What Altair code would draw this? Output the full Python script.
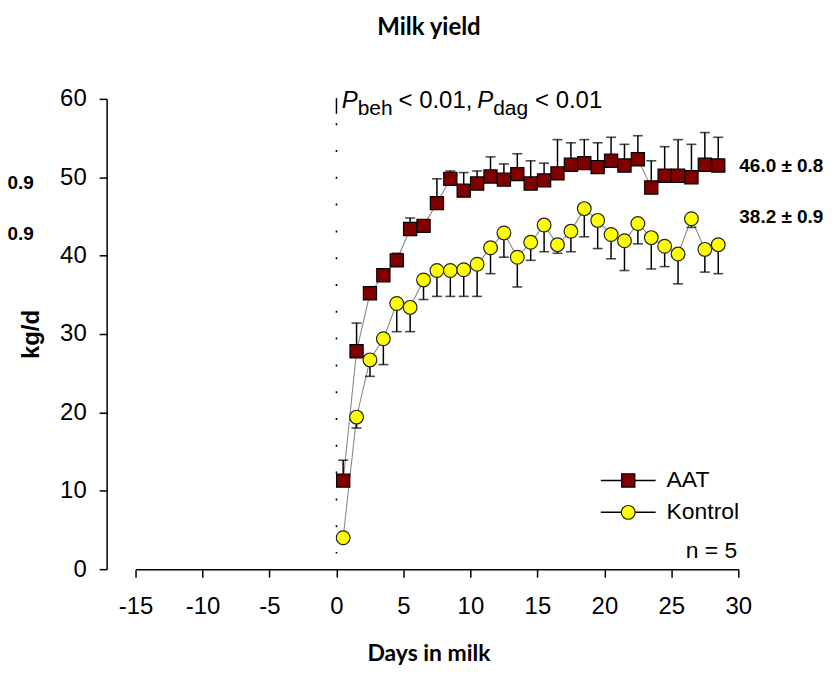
import altair as alt
import pandas as pd

# ---------------- data ----------------
days = [0.5, 1.5, 2.5, 3.5, 4.5, 5.5, 6.5, 7.5, 8.5, 9.5,
        10.5, 11.5, 12.5, 13.5, 14.5, 15.5, 16.5, 17.5, 18.5, 19.5,
        20.5, 21.5, 22.5, 23.5, 24.5, 25.5, 26.5, 27.5, 28.5]

aat_mean = [11.3, 27.8, 35.2, 37.5, 39.4, 43.4, 43.8, 46.7, 49.8, 48.3,
            49.2, 50.1, 49.7, 50.4, 49.2, 49.6, 50.5, 51.6, 51.8, 51.3,
            52.1, 51.5, 52.3, 48.7, 50.2, 50.2, 50.0, 51.6, 51.5]
aat_upper = [13.9, 31.4, 36.0, 37.9, 40.3, 44.8, 44.2, 49.8, 50.8, 50.6,
             50.8, 52.6, 51.7, 53.0, 52.1, 51.8, 54.8, 54.4, 54.8, 54.4,
             55.1, 54.2, 55.3, 52.1, 53.9, 54.8, 54.2, 55.7, 55.1]

kontrol_mean = [4.0, 19.4, 26.7, 29.4, 33.9, 33.4, 36.9, 38.1, 38.1, 38.2,
                38.9, 41.0, 42.9, 39.8, 41.7, 43.9, 41.4, 43.1, 46.0, 44.5,
                42.7, 41.9, 44.1, 42.3, 41.2, 40.2, 44.7, 40.8, 41.4]
kontrol_lower = [3.6, 18.0, 24.6, 26.1, 30.3, 30.3, 34.4, 34.8, 34.8, 34.8,
                 34.8, 37.7, 39.8, 36.0, 39.4, 40.5, 40.3, 40.5, 42.4, 40.9,
                 39.6, 38.1, 41.5, 38.3, 38.6, 36.4, 43.6, 37.9, 37.7]

groups = ["AAT", "Kontrol"]
x_ticks = [-15, -10, -5, 0, 5, 10, 15, 20, 25, 30]
y_ticks = [0, 10, 20, 30, 40, 50, 60]
end_labels = ["46.0 ± 0.8", "38.2 ± 0.9"]
cut_labels = ["0.9", "0.9"]
n_label = "n = 5"
title_text = "Milk yield"
x_title = "Days in milk"
y_title = "kg/d"

# ---------------- tables ----------------
df = pd.DataFrame({
    "day": days + days,
    "mean": aat_mean + kontrol_mean,
    "err": aat_upper + kontrol_lower,
    "group": [groups[0]] * len(days) + [groups[1]] * len(days),
})
calving = pd.DataFrame({"day": [0], "top": [60.1], "mid": [58.1], "dots": [56.9], "bottom": [2.0]})
one = pd.DataFrame({"k": [0]})

SANS = "Liberation Sans, Arial, sans-serif"
BOLDT = "Lato, Open Sans, sans-serif"
MAROON = "#800000"
YELLOW = "#FFFF00"

x_scale = alt.Scale(domain=[-15, 30], nice=False, zero=False)
y_scale = alt.Scale(domain=[0, 60], nice=False, zero=False)

x_axis = alt.Axis(
    values=x_ticks, title=x_title, titleFont=BOLDT, titleFontSize=23,
    titleFontWeight="bold", titleColor="black", titlePadding=24, titleX=294,
    labelFont=SANS, labelFontSize=24, labelColor="black", labelPadding=18,
    labelExpr="'' + datum.value",
    labelFlush=False, labelOverlap=False,
    tickSize=8, tickWidth=1.5, tickColor="black",
    domainColor="black", domainWidth=1.5, grid=False,
)
y_axis = alt.Axis(
    values=y_ticks, title=y_title, titleFont=SANS,
    titleFontSize=24, titleFontWeight="bold", titleColor="black", titlePadding=16,
    labelFont=SANS, labelFontSize=24, labelColor="black", labelPadding=13,
    labelFlush=False, labelOverlap=False, offset=29,
    tickSize=7.5, tickWidth=1.5, tickColor="black",
    domainColor="black", domainWidth=1.5, grid=False,
)


def X(field):
    return alt.X(field, type="quantitative", scale=x_scale, axis=x_axis)


def Y(field):
    return alt.Y(field, type="quantitative", scale=y_scale, axis=y_axis)


base = alt.Chart(df)

lines = base.mark_line(color="#8a8a8a", strokeWidth=1.1).encode(
    x=X("day"), y=Y("mean"), detail="group:N")

err_rules = base.mark_rule(color="black", strokeWidth=1.5).encode(
    x=X("day"), y=Y("mean"), y2="err:Q")
err_caps = base.mark_tick(orient="horizontal", size=10, thickness=1.6, color="black").encode(
    x=X("day"), y=Y("err"))

aat_pts = base.transform_filter(alt.datum.group == groups[0]).mark_point(
    shape="square", size=175, filled=True, color=MAROON, stroke="black",
    strokeWidth=1.2, opacity=1).encode(x=X("day"), y=Y("mean"))
kon_pts = base.transform_filter(alt.datum.group == groups[1]).mark_point(
    shape="circle", size=190, filled=True, color=YELLOW, stroke="#222222",
    strokeWidth=1.2, opacity=1).encode(x=X("day"), y=Y("mean"))

vsolid = alt.Chart(calving).mark_rule(color="black", strokeWidth=1.5).encode(
    x=X("day"), y=Y("top"), y2="mid:Q")
vdots = alt.Chart(calving).mark_rule(color="black", strokeWidth=1.6, strokeDash=[2, 24.9]).encode(
    x=X("day"), y=Y("dots"), y2="bottom:Q")


def txt(s, x, y, size=24, style="normal", weight="normal", align="left", baseline="alphabetic", font=SANS):
    return alt.Chart(one).mark_text(
        text=s, font=font, fontSize=size, fontStyle=style, fontWeight=weight,
        align=align, baseline=baseline, color="black",
    ).encode(x=alt.value(x), y=alt.value(y))


# P-value annotation (P italic with subscripts)
ptext = [
    txt("P", 207, 9, style="italic"),
    txt("beh", 223, 16, size=21),
    txt("< 0.01,", 264, 9),
    txt("P", 343, 9, style="italic"),
    txt("dag", 359, 16, size=21),
    txt("< 0.01", 401, 9),
]

end_txt = [
    txt(end_labels[0], 606, 67, size=19, weight="bold", baseline="middle"),
    txt(end_labels[1], 606, 119, size=19, weight="bold", baseline="middle"),
    txt(cut_labels[0], -102, 84, size=19, weight="bold", align="right", baseline="middle"),
    txt(cut_labels[1], -102, 136, size=19, weight="bold", align="right", baseline="middle"),
]


# legend drawn by hand
def leg_line(y):
    return alt.Chart(one).mark_rule(color="black", strokeWidth=1.5).encode(
        x=alt.value(467), x2=alt.value(522), y=alt.value(y))


legend = [
    leg_line(383),
    alt.Chart(one).mark_point(shape="square", size=175, filled=True, color=MAROON,
                              stroke="black", strokeWidth=1.2, opacity=1).encode(
        x=alt.value(494.5), y=alt.value(383)),
    txt(groups[0], 533, 383, size=23, baseline="middle"),
    leg_line(415),
    alt.Chart(one).mark_point(shape="circle", size=190, filled=True, color=YELLOW,
                              stroke="#222222", strokeWidth=1.2, opacity=1).encode(
        x=alt.value(494.5), y=alt.value(415)),
    txt(groups[1], 533, 415, size=23, baseline="middle"),
    txt(n_label, 604, 454, size=23, align="right", baseline="middle"),
]

chart = alt.layer(
    lines, vsolid, vdots, err_rules, err_caps, aat_pts, kon_pts,
    *ptext, *end_txt, *legend,
).properties(
    width=605, height=472,
    background="white",
    title=alt.TitleParams(title_text, font=BOLDT, fontSize=24, fontWeight="bold",
                          color="black", anchor="middle", frame="group", offset=47, dx=-8),
    autosize=alt.AutoSizeParams(type="none"),
    padding={"left": 128, "top": 90, "right": 92, "bottom": 100},
).configure_view(
    stroke="transparent", strokeWidth=0
).configure_axis(
    grid=False, gridColor="transparent", gridWidth=0
).configure_axisTop(
    domain=False, ticks=False, labels=False, grid=False
).configure_axisRight(
    domain=False, ticks=False, labels=False, grid=False
)

chart.save("out.html", embed_options={"renderer": "svg", "actions": False})
